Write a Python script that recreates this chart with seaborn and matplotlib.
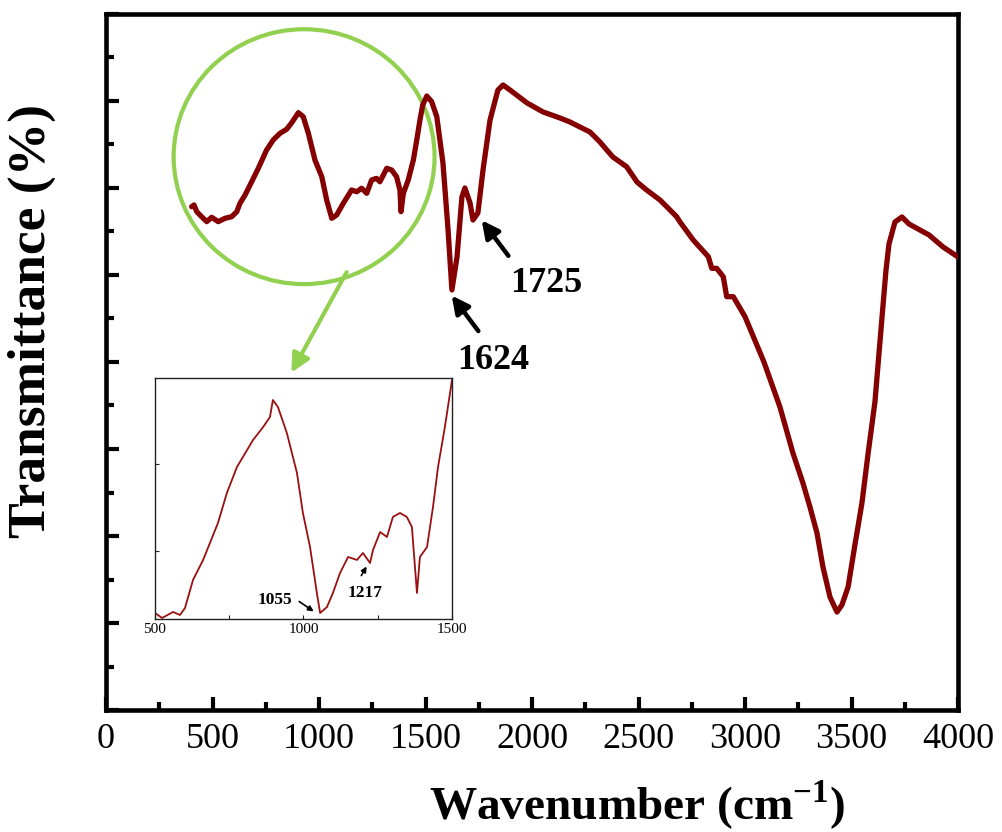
import numpy as np
import pandas as pd
import matplotlib
matplotlib.use("Agg")
import matplotlib.pyplot as plt
from matplotlib.patches import Ellipse
from matplotlib.ticker import MultipleLocator
import seaborn as sns

# ---------------- data ----------------
wavenumber = [402, 413, 426, 449, 473, 496, 527, 559, 590, 614, 629, 653, 684, 715, 754,
              785, 817, 848, 872, 903, 926, 950, 981, 1013, 1036, 1060, 1083, 1114, 1153,
              1177, 1200, 1224, 1247, 1270, 1286, 1318, 1341, 1364, 1380, 1385, 1396, 1419,
              1443, 1459, 1474, 1487, 1506, 1529, 1553, 1582, 1606, 1624, 1648, 1671, 1685,
              1709, 1723, 1746, 1770, 1803, 1840, 1864, 1897, 1977, 2052, 2131, 2178, 2225,
              2272, 2319, 2351, 2380, 2444, 2493, 2538, 2601, 2648, 2679, 2695, 2757, 2828,
              2844, 2867, 2898, 2914, 2945, 3000, 3089, 3164, 3225, 3272, 3305, 3338, 3366,
              3399, 3423, 3432, 3455, 3484, 3516, 3549, 3577, 3610, 3643, 3662, 3676, 3704,
              3737, 3770, 3864, 3930, 4000]
transmittance = [57.85, 58.05, 57.28, 56.70, 56.13, 56.63, 56.13, 56.52, 56.70, 57.28, 58.24,
                 59.20, 60.72, 62.26, 64.37, 65.52, 66.29, 66.75, 67.51, 68.66, 68.20, 66.29,
                 63.22, 61.30, 58.62, 56.52, 56.90, 58.24, 59.77, 59.57, 59.97, 59.39, 60.92,
                 61.11, 60.72, 62.26, 62.07, 61.30, 59.77, 57.28, 59.39, 60.92, 63.22, 65.52,
                 67.82, 69.54, 70.57, 69.92, 68.20, 62.87, 55.17, 48.28, 52.07, 58.97, 60.00,
                 58.28, 56.32, 57.13, 62.07, 67.82, 71.26, 71.84, 71.26, 69.77, 68.74, 68.05,
                 67.59, 67.01, 66.44, 65.29, 64.37, 63.56, 62.45, 60.69, 59.77, 58.62, 57.47,
                 56.70, 56.09, 54.02, 52.10, 50.77, 50.77, 49.80, 47.51, 47.51, 45.21, 40.00,
                 34.83, 29.54, 26.09, 23.33, 20.34, 16.44, 12.99, 11.72, 11.26, 12.07, 14.14,
                 18.97, 23.79, 29.31, 35.40, 45.06, 50.57, 53.56, 56.09, 56.67, 55.86, 54.60,
                 53.22, 52.07]

inset_wavenumber = [500, 524, 561, 584, 601, 628, 662, 685, 712, 742, 776, 810, 830, 864, 887,
                    897, 914, 944, 978, 998, 1022, 1045, 1056, 1079, 1099, 1123, 1150, 1180,
                    1200, 1224, 1234, 1258, 1281, 1301, 1325, 1348, 1365, 1382, 1392, 1416,
                    1436, 1453, 1476, 1500]
inset_signal = [0.287, 0.230, 0.299, 0.264, 0.345, 0.667, 0.897, 1.092, 1.322, 1.667, 1.966,
                2.161, 2.276, 2.425, 2.540, 2.736, 2.655, 2.356, 1.897, 1.437, 1.046, 0.517,
                0.287, 0.356, 0.517, 0.747, 0.931, 0.897, 0.977, 0.862, 1.011, 1.218, 1.161,
                1.391, 1.437, 1.391, 1.276, 0.517, 0.931, 1.046, 1.506, 1.966, 2.425, 2.966]

peak_labels = ["1624", "1725"]
inset_peak_labels = ["1055", "1217"]
x_ticks = [0, 500, 1000, 1500, 2000, 2500, 3000, 3500, 4000]
inset_x_ticks = [500, 1000, 1500]

main_df = pd.DataFrame({"wavenumber": wavenumber, "transmittance": transmittance})
inset_df = pd.DataFrame({"wavenumber": inset_wavenumber, "signal": inset_signal})

# ---------------- style ----------------
sns.set_style("ticks")
plt.rcParams["font.family"] = ["Liberation Serif", "DejaVu Serif"]
plt.rcParams["mathtext.fontset"] = "custom"
plt.rcParams["mathtext.rm"] = "Liberation Serif"
plt.rcParams["mathtext.bf"] = "Liberation Serif:bold"
plt.rcParams["text.color"] = "black"
plt.rcParams["xtick.color"] = "black"
plt.rcParams["ytick.color"] = "black"
plt.rcParams["axes.edgecolor"] = "black"

W, H = 1003, 832
fig = plt.figure(figsize=(W / 100, H / 100), dpi=100)
fig.patch.set_facecolor("white")

L, R, T, B = 106, 958, 14, 710
ax = fig.add_axes([L / W, 1 - B / H, (R - L) / W, (B - T) / H])
ax.set_facecolor("white")

curve_color = "#850000"
sns.lineplot(data=main_df, x="wavenumber", y="transmittance", ax=ax, color=curve_color,
             lw=3.8, estimator=None, sort=False, zorder=5,
             solid_joinstyle="round", solid_capstyle="round")

ax.set_xlim(0, 4000)
ax.set_ylim(0, 80)
ax.set_xticks(x_ticks)
ax.set_xticklabels([str(t) for t in x_ticks])
ax.xaxis.set_minor_locator(MultipleLocator(250))
ax.set_yticks(np.arange(0, 81, 10))
ax.yaxis.set_minor_locator(MultipleLocator(5))
ax.tick_params(which="both", direction="in", width=3, colors="black", labelcolor="black")
ax.tick_params(which="major", length=9.5)
ax.tick_params(which="minor", length=5.5)
ax.tick_params(axis="x", labelsize=26, pad=9)
ax.tick_params(axis="y", labelleft=False)
for s in ax.spines.values():
    s.set_linewidth(3.3)
    s.set_color("black")
ax.set_xlabel("")
ax.set_ylabel("")

fig.text(637 / W, 1 - 820 / H, r"Wavenumber (cm$^{\mathbf{-1}}$)", ha="center",
         va="baseline", fontsize=34, fontweight="bold", color="black")
fig.text(32 / W, 1 - 321 / H, "Transmittance (%)", rotation=90, ha="center", va="center",
         fontsize=38.5, fontweight="bold", color="black")

# green ellipse & pointer
ell = Ellipse((930, 63.6), 1225, 29.3, fill=False, edgecolor="#92d050", lw=3.0,
              zorder=3, clip_on=False)
ax.add_patch(ell)
ax.annotate("", xy=(864, 38.5), xytext=(1136, 50.6),
            arrowprops=dict(arrowstyle="-|>", color="#92d050", lw=3, mutation_scale=28),
            zorder=3)

# peak annotations
ax.annotate("", xy=(1615, 47.9), xytext=(1756, 43.3),
            arrowprops=dict(arrowstyle="-|>", color="black", lw=3.2, mutation_scale=26),
            zorder=6)
ax.text(1817, 40.2, peak_labels[0], ha="center", va="center", fontsize=26, fontweight="bold",
        color="black")
ax.annotate("", xy=(1756, 56.55), xytext=(1897, 51.95),
            arrowprops=dict(arrowstyle="-|>", color="black", lw=3.2, mutation_scale=26),
            zorder=6)
ax.text(2066, 49.08, peak_labels[1], ha="center", va="center", fontsize=26, fontweight="bold",
        color="black")

# ---------------- inset ----------------
iL, iR, iT, iB = 155, 452, 378, 619
axi = fig.add_axes([iL / W, 1 - iB / H, (iR - iL) / W, (iB - iT) / H])
axi.set_facecolor("white")
sns.lineplot(data=inset_df, x="wavenumber", y="signal", ax=axi, color="#9a1010", lw=1.3,
             estimator=None, sort=False, solid_joinstyle="round")
axi.set_xlim(500, 1500)
axi.set_ylim(0.218, 2.989)
axi.set_xticks(inset_x_ticks)
axi.set_xticklabels([str(t) for t in inset_x_ticks])
axi.xaxis.set_minor_locator(MultipleLocator(250))
axi.set_yticks([1, 2])
axi.set_yticklabels([])
axi.tick_params(which="both", direction="in", width=0.8, length=3, labelsize=11, pad=3,
                colors="#222222", labelcolor="black")
axi.set_xlabel("")
axi.set_ylabel("")
for s in axi.spines.values():
    s.set_linewidth(1.0)
    s.set_color("#222222")

axi.annotate("", xy=(1042, 0.287), xytext=(978, 0.437),
             arrowprops=dict(arrowstyle="-|>", color="black", lw=1.2, mutation_scale=8))
axi.text(904, 0.437, inset_peak_labels[0], ha="center", va="center", fontsize=12.5,
         fontweight="bold", color="black")
axi.annotate("", xy=(1217, 0.85), xytext=(1190, 0.69),
             arrowprops=dict(arrowstyle="-|>", color="black", lw=1.2, mutation_scale=8))
axi.text(1207, 0.517, inset_peak_labels[1], ha="center", va="center", fontsize=12.5,
         fontweight="bold", color="black")

fig.savefig("out.png", dpi=100, facecolor="white")
